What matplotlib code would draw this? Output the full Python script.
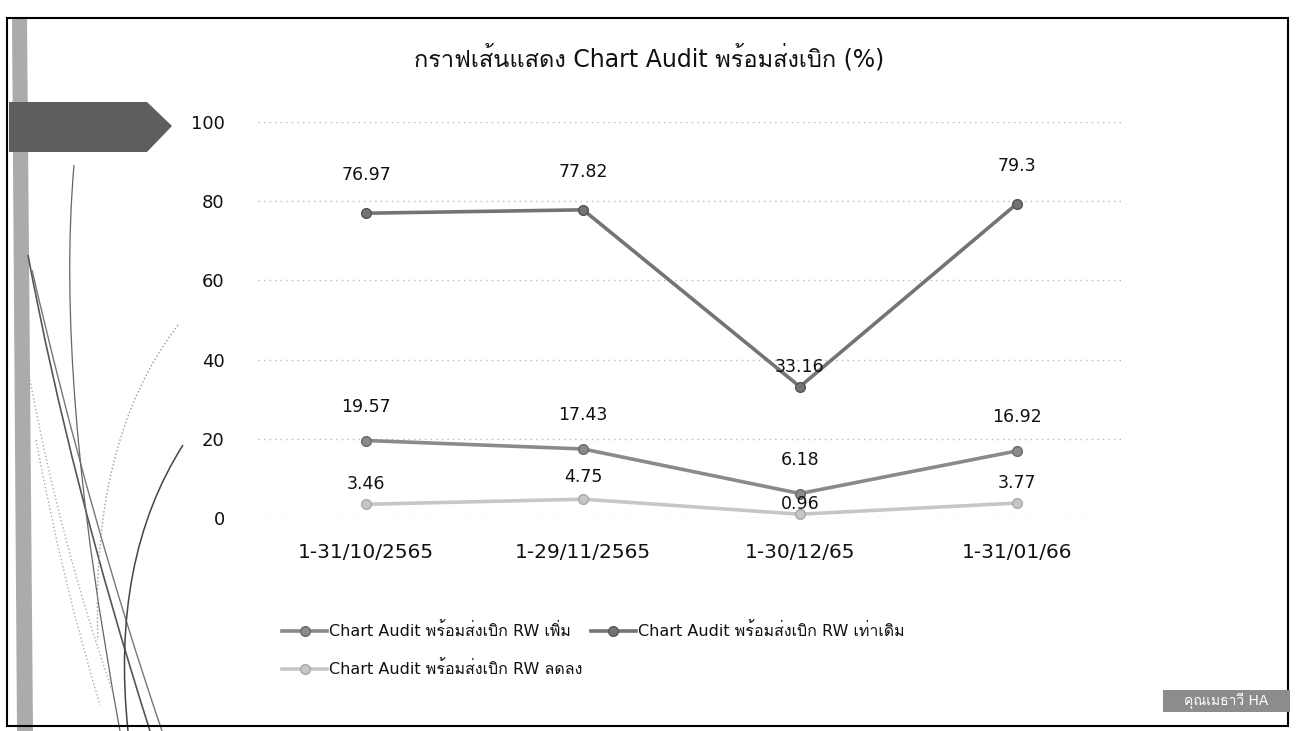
import matplotlib
matplotlib.use("Agg")
import matplotlib.pyplot as plt
from matplotlib import font_manager, ft2font
from matplotlib.patches import Polygon, Rectangle, PathPatch
from matplotlib.path import Path

# หา font ที่มีอักษรไทย (ใช้เป็นตัวสำรองหลัง DejaVu Sans)
thai_font = None
for f in font_manager.fontManager.ttflist:
    try:
        if 0x0E01 in ft2font.FT2Font(f.fname).get_charmap():
            thai_font = f.name
            break
    except Exception:
        pass
families = ['DejaVu Sans']
if thai_font and thai_font != 'DejaVu Sans':
    families.append(thai_font)
plt.rcParams['font.family'] = families

# ข้อมูล
categories = ['1-31/10/2565', '1-29/11/2565', '1-30/12/65', '1-31/01/66']
rw_up = [19.57, 17.43, 6.18, 16.92]
rw_same = [76.97, 77.82, 33.16, 79.3]
rw_down = [3.46, 4.75, 0.96, 3.77]
series_names = ['Chart Audit พร้อมส่งเบิก RW เพิ่ม',
                'Chart Audit พร้อมส่งเบิก RW เท่าเดิม',
                'Chart Audit พร้อมส่งเบิก RW ลดลง']
title = 'กราฟเส้นแสดง Chart Audit พร้อมส่งเบิก (%)'
footer = 'คุณเมธาวี HA'

# ตำแหน่ง label (pixel เหนือจุด)
label_dy = {
    'up': [34, 34, 34, 34],
    'same': [38, 38, 20, 38],
    'down': [20, 22, 10, 20],
}

W, H = 1298, 731


def px(x, y):
    return (x / W, 1 - y / H)


fig = plt.figure(figsize=(W / 100, H / 100), dpi=100)
fig.patch.set_facecolor('white')

# ของตกแต่งด้านซ้าย
fig.add_artist(Polygon([px(12, 18), px(27, 18), px(33, 731), px(17, 731)],
                       closed=True, transform=fig.transFigure,
                       facecolor='#ababab', edgecolor='none'))
fig.add_artist(Polygon([px(9, 102), px(147, 102), px(172, 126), px(147, 152), px(9, 152)],
                       closed=True, transform=fig.transFigure,
                       facecolor='#5e5e5e', edgecolor='none'))


def curve(pts, color, lw, ls='-'):
    verts = [px(*p) for p in pts]
    codes = [Path.MOVETO] + [Path.CURVE3] * (len(verts) - 1)
    fig.add_artist(PathPatch(Path(verts, codes), transform=fig.transFigure,
                             facecolor='none', edgecolor=color, lw=lw, ls=ls))


curve([(28, 255), (70, 480), (150, 731)], '#555555', 1.2)
curve([(32, 270), (90, 520), (162, 731)], '#777777', 1.0)
curve([(74, 165), (55, 380), (120, 731)], '#666666', 0.9)
curve([(183, 445), (110, 560), (128, 731)], '#444444', 1.1)
curve([(178, 325), (90, 440), (98, 640)], '#999999', 1.0, ':')
curve([(30, 380), (60, 540), (112, 690)], '#aaaaaa', 1.0, ':')
curve([(36, 440), (62, 580), (100, 705)], '#aaaaaa', 1.0, ':')

# กรอบ
fig.add_artist(Rectangle(px(7, 726), (1288 - 7) / W, (726 - 18) / H,
                         transform=fig.transFigure, facecolor='none',
                         edgecolor='black', lw=1.5))

# กราฟ
ax = fig.add_axes([258 / W, 1 - 518 / H, (1125 - 258) / W, (518 - 122) / H])
ax.set_facecolor('none')
x = list(range(len(categories)))
styles = [
    (rw_up, 'up', '#8a8a8a', '#6a6a6a'),
    (rw_same, 'same', '#747474', '#555555'),
    (rw_down, 'down', '#c6c6c6', '#a8a8a8'),
]
handles = []
for (vals, key, c, ec), name in zip(styles, series_names):
    ln, = ax.plot(x, vals, color=c, lw=2.6, marker='o', ms=7,
                  markerfacecolor=c, markeredgecolor=ec, clip_on=False,
                  label=name, zorder=3)
    handles.append(ln)
    for i, v in enumerate(vals):
        ax.annotate(str(v), (i, v), xytext=(0, label_dy[key][i] * 0.72),
                    textcoords='offset points', ha='center', va='center',
                    fontsize=12.5, color='#111111', zorder=4)

ax.set_xlim(-0.5, len(categories) - 0.5)
ax.set_ylim(0, 100)
ax.set_yticks(range(0, 101, 20))
ax.set_xticks(x)
ax.set_xticklabels(categories)
ax.tick_params(axis='y', length=0, pad=24, labelsize=13, labelcolor='#111111')
ax.tick_params(axis='x', length=0, pad=18, labelsize=14.5, labelcolor='#111111')
ax.yaxis.grid(True, ls=(0, (1, 3)), color='#b8b8b8', lw=1)
ax.set_axisbelow(True)
for s in ax.spines.values():
    s.set_visible(False)

# ชื่อกราฟ
fig.text(*px(649, 58), title, ha='center', va='center', fontsize=17, color='#111111')

# คำอธิบาย
fig.legend([handles[0], handles[2], handles[1]],
           [series_names[0], series_names[2], series_names[1]],
           loc='upper left', bbox_to_anchor=px(268, 608), ncol=2, frameon=False,
           fontsize=11.5, handlelength=2.8, handletextpad=0.15, columnspacing=0.5,
           labelspacing=1.3, labelcolor='#111111')

# ป้ายมุมขวาล่าง
fig.add_artist(Rectangle(px(1163, 712), (1290 - 1163) / W, (712 - 690) / H,
                         transform=fig.transFigure, facecolor='#8c8c8c',
                         edgecolor='none'))
fig.text(*px(1226, 701), footer, ha='center', va='center', fontsize=10, color='white')

fig.savefig('out.png', dpi=100)
